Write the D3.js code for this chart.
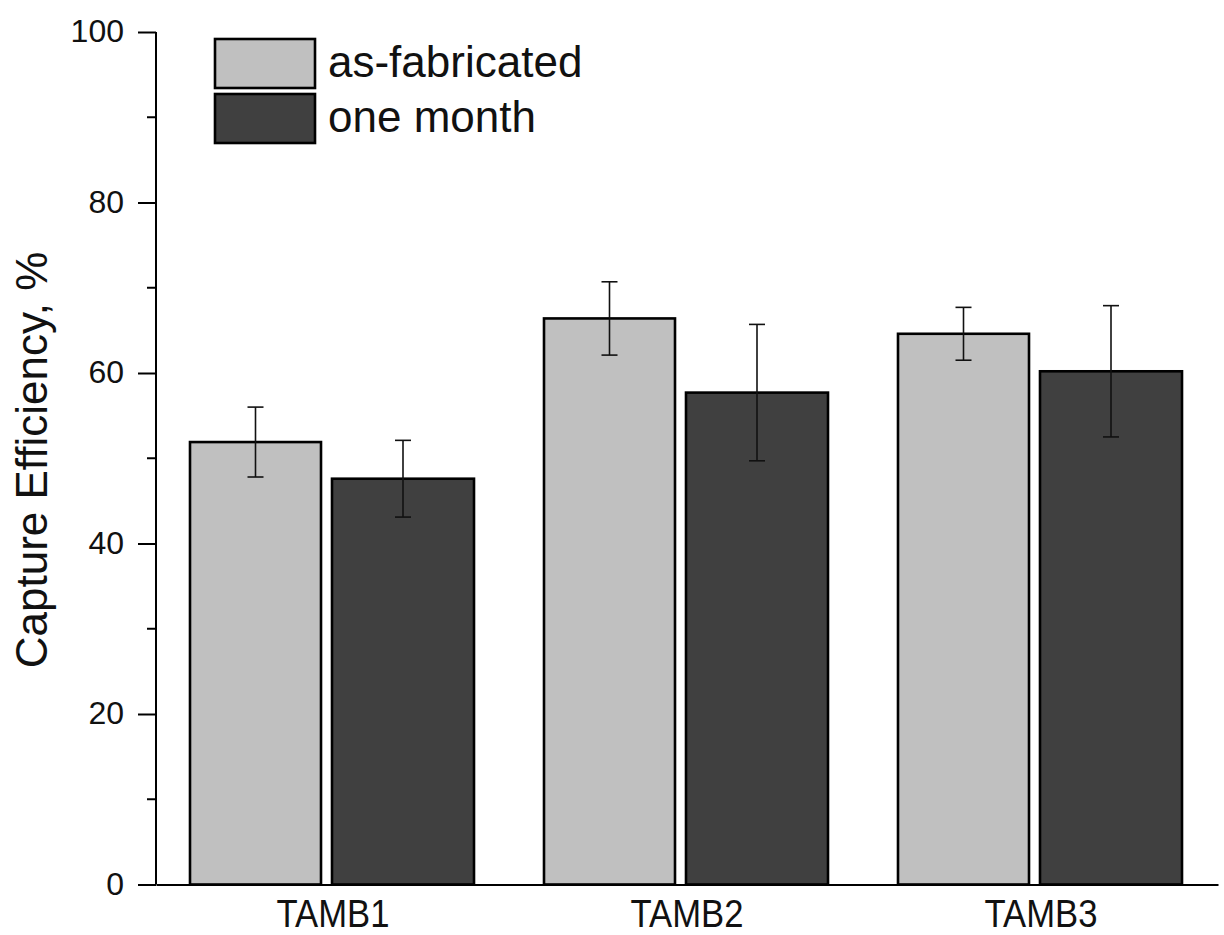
<!DOCTYPE html>
<html>
<head>
<meta charset="utf-8">
<script src="https://cdn.jsdelivr.net/npm/d3@7/dist/d3.min.js"></script>
<style>
  html, body { margin: 0; padding: 0; background: #fff; }
  svg { display: block; font-family: "Liberation Sans", Arial, sans-serif; }
</style>
</head>
<body>
<svg id="chart" width="1224" height="935"></svg>
<script>
// Capture efficiency per sample, fresh vs. after one month of storage
const categories = ["TAMB1", "TAMB2", "TAMB3"];
const seriesNames = ["as-fabricated", "one month"];
const asFabricated = [51.9, 66.4, 64.6];
const asFabricatedErr = [4.1, 4.3, 3.1];
const oneMonth = [47.6, 57.7, 60.2];
const oneMonthErr = [4.5, 8.0, 7.7];
const yTicks = [0, 20, 40, 60, 80, 100];
const yMinorTicks = [10, 30, 50, 70, 90];
const yTitle = "Capture Efficiency, %";

const seriesFill = { "as-fabricated": "#c0c0c0", "one month": "#404040" };
// horizontal extent of each series' bar inside its category band (px from band start)
const barSpan = { "as-fabricated": [34, 165], "one month": [176, 318] };

const svg = d3.select("#chart");

const x = d3.scaleBand().domain(categories).range([156, 1218]).padding(0);
const y = d3.scaleLinear().domain([0, 100]).range([884.5, 32]);

const rows = [];
categories.forEach((c, i) => {
  rows.push({ cat: c, series: seriesNames[0], value: asFabricated[i], err: asFabricatedErr[i] });
  rows.push({ cat: c, series: seriesNames[1], value: oneMonth[i], err: oneMonthErr[i] });
});

// bars
const bars = svg.append("g");
bars.selectAll("rect").data(rows).join("rect")
  .attr("x", d => x(d.cat) + barSpan[d.series][0])
  .attr("width", d => barSpan[d.series][1] - barSpan[d.series][0])
  .attr("y", d => y(d.value))
  .attr("height", d => y(0) - y(d.value))
  .attr("fill", d => seriesFill[d.series])
  .attr("stroke", "#000")
  .attr("stroke-width", 2.6);

// error bars
const errG = svg.append("g").attr("stroke", "#111").attr("stroke-width", 1.6);
rows.forEach(d => {
  const cx = x(d.cat) + (barSpan[d.series][0] + barSpan[d.series][1]) / 2;
  const yt = y(d.value + d.err), yb = y(d.value - d.err);
  errG.append("line").attr("x1", cx).attr("x2", cx).attr("y1", yt).attr("y2", yb);
  errG.append("line").attr("x1", cx - 8).attr("x2", cx + 8).attr("y1", yt).attr("y2", yt);
  errG.append("line").attr("x1", cx - 8).attr("x2", cx + 8).attr("y1", yb).attr("y2", yb);
});

// y axis
const yAxis = d3.axisLeft(y).tickValues(yTicks).tickSize(18).tickPadding(14).tickFormat(d3.format("d"));
const yg = svg.append("g").attr("transform", "translate(156,0)").call(yAxis);
yg.select(".domain").attr("stroke", "#000").attr("stroke-width", 2).attr("d", `M0,${y(0)}V${y(100)}`);
yg.selectAll(".tick line").attr("stroke", "#000").attr("stroke-width", 2);
yg.selectAll(".tick text").attr("font-size", 32).attr("fill", "#111")
  .attr("font-family", "'Liberation Sans', Arial, sans-serif").attr("dy", "0.30em");
yg.selectAll(".minor").data(yMinorTicks).join("line")
  .attr("class", "minor")
  .attr("x1", -9).attr("x2", 0)
  .attr("y1", d => y(d)).attr("y2", d => y(d))
  .attr("stroke", "#000").attr("stroke-width", 2);

// x axis (line only, labels under each category)
const xAxis = d3.axisBottom(x).tickSize(0).tickPadding(0);
const xg = svg.append("g").attr("transform", `translate(0,${y(0)})`).call(xAxis);
xg.select(".domain").attr("stroke", "#000").attr("stroke-width", 2.2);
xg.selectAll(".tick text")
  .attr("font-size", 38).attr("fill", "#111")
  .attr("font-family", "'Liberation Sans', Arial, sans-serif")
  .attr("dy", null).attr("y", 926.5 - y(0))
  .attr("textLength", 113).attr("lengthAdjust", "spacingAndGlyphs");

// y axis title
svg.append("text")
  .attr("transform", "translate(47,460) rotate(-90)")
  .attr("text-anchor", "middle")
  .attr("font-size", 44)
  .attr("fill", "#111")
  .text(yTitle);

// legend
const legend = svg.append("g");
seriesNames.forEach((s, i) => {
  legend.append("rect")
    .attr("x", 215).attr("y", 39 + i * 55)
    .attr("width", 100).attr("height", 49)
    .attr("fill", seriesFill[s]).attr("stroke", "#000").attr("stroke-width", 2.6);
  legend.append("text")
    .attr("x", 328).attr("y", 77 + i * 55)
    .attr("font-size", 44).attr("fill", "#111")
    .text(s);
});
</script>
</body>
</html>
